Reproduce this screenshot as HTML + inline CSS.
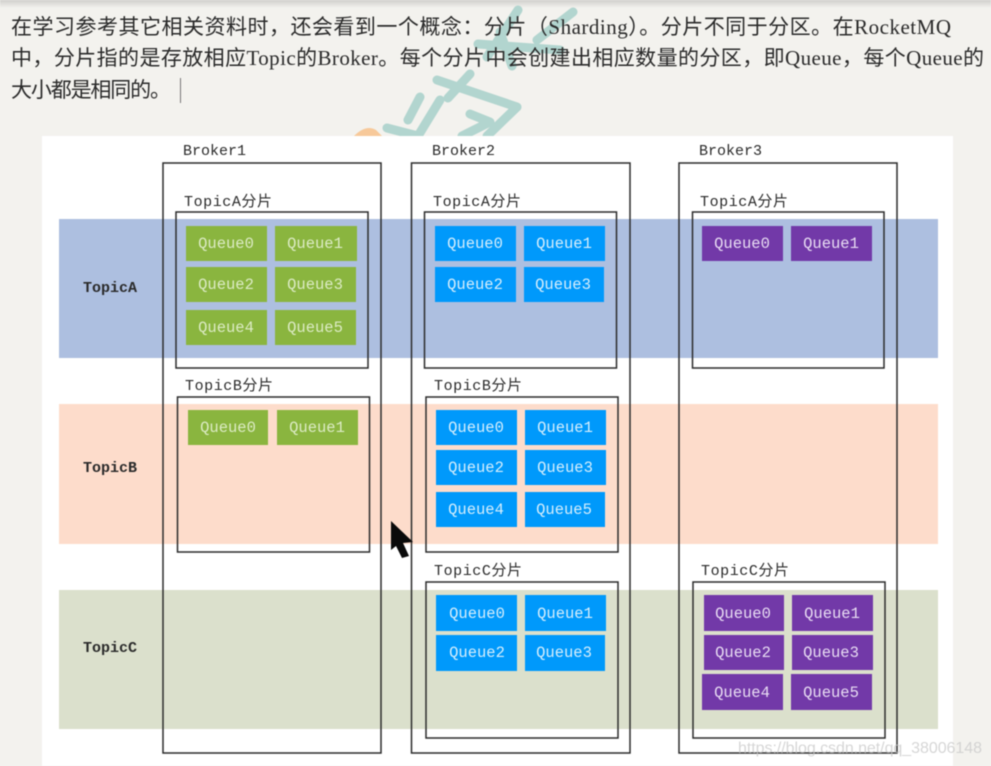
<!DOCTYPE html>
<html><head><meta charset="utf-8">
<style>
html,body{margin:0;padding:0;background:#f3f2ee;width:991px;height:766px;overflow:hidden}
svg{display:block;position:absolute;left:0;top:0;filter:blur(0.45px)}
.p{font-family:"Liberation Serif","Noto Sans CJK SC",serif;font-size:21px;fill:#2a2a2a}
.l{font-family:"Liberation Mono","Noto Sans CJK SC",monospace;font-size:15px;fill:#2b2b2b}
.q{font-family:"Liberation Mono",monospace;font-size:15.5px;text-anchor:middle}
.g rect{fill:#8ab53f}.g text{fill:#dcebc4}
.b rect{fill:#0099fb}.b text{fill:#d5eefc}
.v rect{fill:#7239a8}.v text{fill:#e8dcf3}
.box{fill:none;stroke:#2c2c2c;stroke-width:1.5}
</style></head><body>
<svg width="991" height="766" viewBox="0 0 991 766" xmlns="http://www.w3.org/2000/svg">
<defs><linearGradient id="top" x1="0" y1="0" x2="0" y2="1"><stop offset="0" stop-color="#cfcfcc"/><stop offset="1" stop-color="#f3f2ee"/></linearGradient></defs>
<rect width="991" height="766" fill="#f3f2ee"/>
<rect width="991" height="8" fill="url(#top)"/>
<!-- background watermark -->
<g fill="none" stroke="#b2d5cf" stroke-linecap="round" stroke-linejoin="round" stroke-width="9">
<path d="M518 10 L487 57 M573 12 L537 40 M500 32 L512 66 M478 44 L560 50"/>
<path d="M437 80 L517 107 L487 136 M420 97 L408 120 M470 74 L448 98"/>
<path d="M470 114 L490 122 L462 136 M440 100 L418 136"/>
<path d="M387 128 L418 136"/>
</g>
<path d="M354 136 Q366 124 376 130 L382 136 Z" fill="#f7c99a"/>
<!-- text -->
<text class="p" x="11" y="34" textLength="940" lengthAdjust="spacing">在学习参考其它相关资料时，还会看到一个概念：分片（Sharding）。分片不同于分区。在RocketMQ</text>
<text class="p" x="11" y="65" textLength="973" lengthAdjust="spacing">中，分片指的是存放相应Topic的Broker。每个分片中会创建出相应数量的分区，即Queue，每个Queue的</text>
<text class="p" x="11" y="97" textLength="160" lengthAdjust="spacing">大小都是相同的。</text>
<rect x="180" y="78" width="1" height="25" fill="#777"/>
<!-- panel -->
<rect x="42" y="136" width="911" height="630" fill="#fff"/>
<rect x="59" y="219" width="879" height="139" fill="#adbfe0"/>
<rect x="59" y="404" width="879" height="140" fill="#fddccb"/>
<rect x="59" y="590" width="879" height="139" fill="#dbe0cc"/>
<!-- brokers -->
<rect class="box" x="163" y="163" width="218" height="590"/>
<rect class="box" x="411.500" y="163" width="218.500" height="590"/>
<rect class="box" x="679" y="163" width="218" height="590"/>
<!-- shards -->
<rect class="box" x="176" y="212" width="192" height="156"/>
<rect class="box" x="177.500" y="397" width="192" height="155"/>
<rect class="box" x="424.500" y="212" width="192" height="156"/>
<rect class="box" x="426" y="397" width="192" height="155"/>
<rect class="box" x="426" y="582" width="192" height="156"/>
<rect class="box" x="692.500" y="212" width="191.500" height="156"/>
<rect class="box" x="693" y="582" width="192" height="156"/>
<!-- labels -->
<text class="l" x="183" y="155">Broker1</text>
<text class="l" x="432" y="155">Broker2</text>
<text class="l" x="699" y="155">Broker3</text>
<text class="l" x="83" y="292" style="font-weight:bold">TopicA</text>
<text class="l" x="83" y="472" style="font-weight:bold">TopicB</text>
<text class="l" x="83" y="652" style="font-weight:bold">TopicC</text>
<text class="l" x="184" y="206" textLength="88">TopicA分片</text>
<text class="l" x="185" y="390" textLength="88">TopicB分片</text>
<text class="l" x="433" y="206" textLength="88">TopicA分片</text>
<text class="l" x="434" y="390" textLength="88">TopicB分片</text>
<text class="l" x="434" y="575" textLength="88">TopicC分片</text>
<text class="l" x="700" y="206" textLength="88">TopicA分片</text>
<text class="l" x="701" y="575" textLength="88">TopicC分片</text>
<!-- green -->
<g class="g">
<rect x="186" y="226" width="81" height="35"/><rect x="275" y="226" width="82" height="35"/>
<rect x="186" y="267" width="81" height="35"/><rect x="275" y="267" width="81" height="35"/>
<rect x="186" y="310" width="81" height="35"/><rect x="275" y="310" width="81" height="35"/>
<rect x="188" y="410" width="80" height="35"/><rect x="277" y="410" width="81" height="35"/>
<text class="q" x="226" y="248">Queue0</text><text class="q" x="315" y="248">Queue1</text>
<text class="q" x="226" y="289">Queue2</text><text class="q" x="315" y="289">Queue3</text>
<text class="q" x="226" y="332">Queue4</text><text class="q" x="315" y="332">Queue5</text>
<text class="q" x="228" y="432">Queue0</text><text class="q" x="317" y="432">Queue1</text>
</g>
<!-- blue -->
<g class="b">
<rect x="435" y="226" width="81" height="35"/><rect x="524" y="226" width="81" height="35"/>
<rect x="435" y="267" width="81" height="35"/><rect x="524" y="267" width="80" height="35"/>
<rect x="436" y="410" width="81" height="35"/><rect x="525" y="410" width="81" height="35"/>
<rect x="436" y="450" width="81" height="35"/><rect x="525" y="450" width="81" height="35"/>
<rect x="436" y="492" width="81" height="35"/><rect x="525" y="492" width="80" height="35"/>
<rect x="436" y="595" width="81" height="36"/><rect x="525" y="595" width="81" height="36"/>
<rect x="436" y="635" width="81" height="36"/><rect x="525" y="635" width="80" height="36"/>
<text class="q" x="475" y="248">Queue0</text><text class="q" x="564" y="248">Queue1</text>
<text class="q" x="475" y="289">Queue2</text><text class="q" x="563" y="289">Queue3</text>
<text class="q" x="476" y="432">Queue0</text><text class="q" x="565" y="432">Queue1</text>
<text class="q" x="476" y="472">Queue2</text><text class="q" x="565" y="472">Queue3</text>
<text class="q" x="476" y="514">Queue4</text><text class="q" x="564" y="514">Queue5</text>
<text class="q" x="477" y="618">Queue0</text><text class="q" x="565" y="618">Queue1</text>
<text class="q" x="477" y="657">Queue2</text><text class="q" x="564" y="657">Queue3</text>
</g>
<!-- purple -->
<g class="v">
<rect x="702" y="226" width="81" height="35"/><rect x="791" y="226" width="81" height="35"/>
<rect x="704" y="595" width="80" height="36"/><rect x="792" y="595" width="81" height="36"/>
<rect x="704" y="635" width="80" height="35"/><rect x="792" y="635" width="81" height="35"/>
<rect x="702" y="674" width="81" height="36"/><rect x="791" y="674" width="81" height="36"/>
<text class="q" x="742" y="248">Queue0</text><text class="q" x="831" y="248">Queue1</text>
<text class="q" x="743" y="618">Queue0</text><text class="q" x="832" y="618">Queue1</text>
<text class="q" x="743" y="657">Queue2</text><text class="q" x="831" y="657">Queue3</text>
<text class="q" x="742" y="697">Queue4</text><text class="q" x="831" y="697">Queue5</text>
</g>
<!-- cursor -->
<polygon points="391,521 413,542 403,543 409,556 402,558 396,546 391,550" fill="#0a0a0a"/>
<!-- image watermark -->
<text x="738" y="753" textLength="244" style="font-family:'Liberation Sans',sans-serif;font-size:16px;fill:#c8c8c8;fill-opacity:.75">https://blog.csdn.net/qq_38006148</text>
</svg>
</body></html>
